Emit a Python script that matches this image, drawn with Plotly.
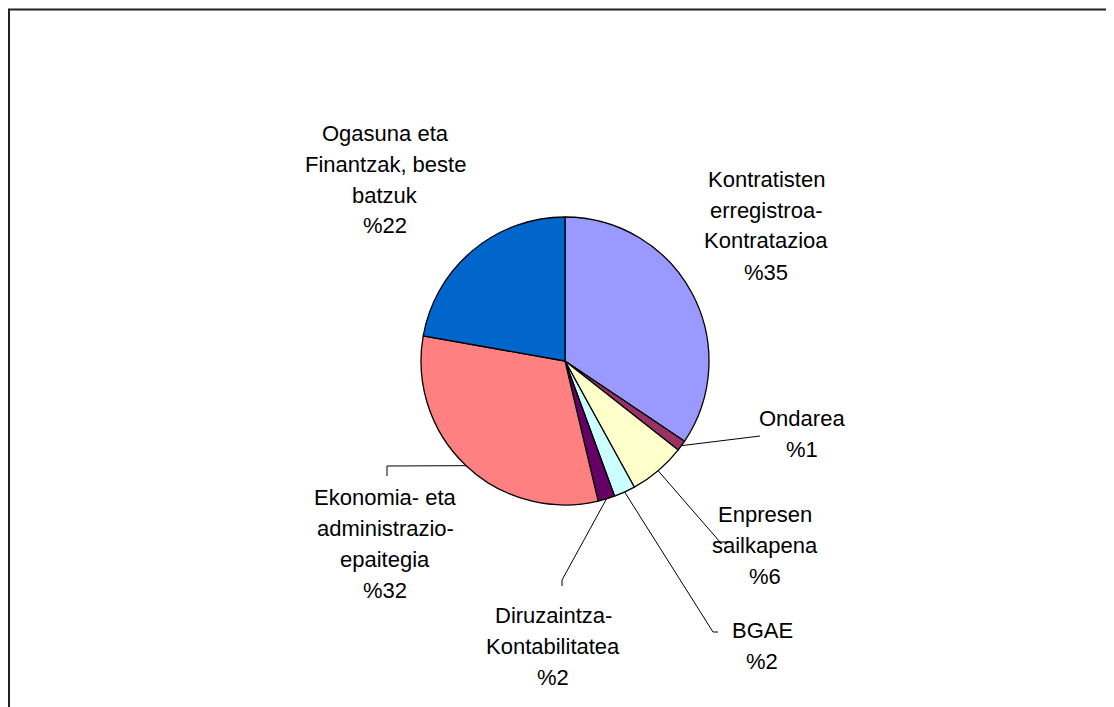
import math
import plotly.graph_objects as go

# ---- data ----
categories = [
    "Kontratisten erregistroa-Kontratazioa",
    "Ondarea",
    "Enpresen sailkapena",
    "BGAE",
    "Diruzaintza-Kontabilitatea",
    "Ekonomia- eta administrazio-epaitegia",
    "Ogasuna eta Finantzak, beste batzuk",
]
values = [34.4, 1.2, 6.4, 2.4, 1.9, 31.5, 22.2]
label_lines = [
    ["Kontratisten", "erregistroa-", "Kontratazioa", "%35"],
    ["Ondarea", "%1"],
    ["Enpresen", "sailkapena", "%6"],
    ["BGAE", "%2"],
    ["Diruzaintza-", "Kontabilitatea", "%2"],
    ["Ekonomia- eta", "administrazio-", "epaitegia", "%32"],
    ["Ogasuna eta", "Finantzak, beste", "batzuk", "%22"],
]
colors = ["#9999FF", "#993366", "#FFFFCC", "#CCFFFF", "#660066", "#FF8080", "#0066CC"]

# ---- layout (page pixels) ----
OFF = 8                      # default page body margin
W, H = 1114 - OFF, 707 - OFF
CX, CY, R = 565, 361, 144
LINE_GAP = 31
label_pos = [(766, 179), (802, 418), (765, 514), (762, 630), (553, 615), (385, 497), (385, 133)]
leader_pts = [
    None,
    [(760, 436)],
    [(720, 542), (728, 542)],
    [(713, 632), (718, 632)],
    [(562, 580), (562, 586)],
    [(387, 466), (387, 476)],
    None,
]

def px(x):
    return (x - OFF) / W

def py(y):
    return 1 - (y - OFF) / H

fig = go.Figure(
    go.Pie(
        labels=categories,
        values=values,
        sort=False,
        direction="clockwise",
        rotation=0,
        marker=dict(colors=colors, line=dict(color="black", width=1.3)),
        textinfo="none",
        hoverinfo="label+percent",
        showlegend=False,
        domain=dict(x=[px(CX - R), px(CX + R)], y=[py(CY + R), py(CY - R)]),
    )
)

shapes = [
    dict(type="rect", xref="paper", yref="paper",
         x0=px(9), y0=-0.05, x1=1.05, y1=py(9.5),
         line=dict(color="#222222", width=2), fillcolor="rgba(0,0,0,0)")
]
annotations = []
total = sum(values)
cum = 0.0
for i, v in enumerate(values):
    mid = (cum + v / 2) / total
    cum += v
    ang = 2 * math.pi * mid
    ax = CX + R * math.sin(ang)
    ay = CY - R * math.cos(ang)
    if leader_pts[i]:
        pts = [(ax, ay)] + leader_pts[i]
        for (x0, y0), (x1, y1) in zip(pts[:-1], pts[1:]):
            shapes.append(dict(type="line", xref="paper", yref="paper",
                               x0=px(x0), y0=py(y0), x1=px(x1), y1=py(y1),
                               line=dict(color="black", width=1)))
    lx, ly = label_pos[i]
    for k, t in enumerate(label_lines[i]):
        annotations.append(dict(
            text=t, x=px(lx), y=py(ly + k * LINE_GAP), xref="paper", yref="paper",
            xanchor="center", yanchor="middle", showarrow=False,
            font=dict(family="Liberation Sans, Arial, sans-serif", size=22, color="black"),
        ))

fig.update_layout(
    width=W, height=H,
    margin=dict(l=0, r=0, t=0, b=0),
    paper_bgcolor="white", plot_bgcolor="white",
    shapes=shapes, annotations=annotations,
)

fig.write_html("out.html")
